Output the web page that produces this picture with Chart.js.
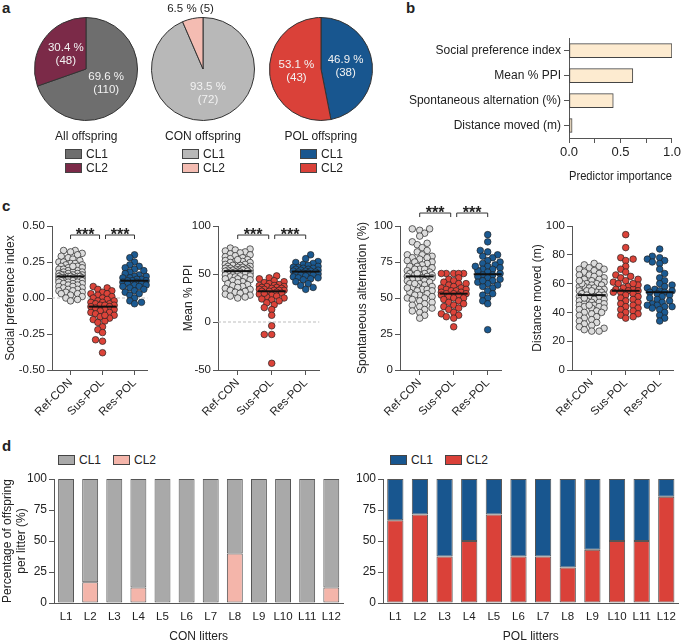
<!DOCTYPE html>
<html>
<head>
<meta charset="utf-8">
<script src="https://cdn.jsdelivr.net/npm/chart.js@4.4.0/dist/chart.umd.min.js"></script>
<style>
  body { margin: 0; background: #fff; font-family: "Liberation Sans", Arial, sans-serif; color: #222; }
  #fig { position: relative; width: 683px; height: 641px; overflow: hidden; }
  canvas { position: absolute; }
  .panel { position: absolute; font-weight: bold; font-size: 15px; line-height: 15px; }
  .txt { position: absolute; font-size: 12px; line-height: 14px; white-space: nowrap; }
  .key { position: absolute; font-size: 12px; line-height: 14px; white-space: nowrap; }
  .key i { display: inline-block; width: 15px; height: 8px; border: 1px solid #444; vertical-align: -1px; margin-right: 4px; }
</style>
</head>
<body>
<div id="fig">
  <div class="panel" style="left:2px;top:0px">a</div>
  <div class="panel" style="left:406px;top:0px">b</div>
  <div class="panel" style="left:2px;top:198px">c</div>
  <div class="panel" style="left:2px;top:438px">d</div>

  <canvas id="pieAll" width="130" height="134" style="left:21px;top:0px"></canvas>
  <canvas id="pieCon" width="130" height="134" style="left:138px;top:0px"></canvas>
  <canvas id="piePol" width="130" height="134" style="left:256px;top:0px"></canvas>

  <canvas id="barB" width="283" height="158" style="left:400px;top:28px"></canvas>

  <canvas id="stripSpi" width="149" height="227" style="left:3px;top:195px"></canvas>
  <canvas id="stripPpi" width="143" height="227" style="left:181px;top:195px"></canvas>
  <canvas id="stripSa" width="151" height="227" style="left:355px;top:195px"></canvas>
  <canvas id="stripDm" width="148" height="227" style="left:530px;top:195px"></canvas>

  <canvas id="litCon" width="348" height="176" style="left:0px;top:468px"></canvas>
  <canvas id="litPol" width="343" height="176" style="left:340px;top:468px"></canvas>
</div>

<script>
// ---- data ----
const clusterLabels = ['CL1', 'CL2'];
const pieTitles = ['All offspring', 'CON offspring', 'POL offspring'];
const pieAllCounts = [110, 48];
const pieConCounts = [72, 5];
const piePolCounts = [38, 43];
const pieAllPct = [69.6, 30.4];
const pieConPct = [93.5, 6.5];
const piePolPct = [46.9, 53.1];

const predictorLabels = ['Social preference index', 'Mean % PPI', 'Spontaneous alternation (%)', 'Distance moved (m)'];
const predictorImportance = [1.0, 0.62, 0.43, 0.03];
const importanceTicks = [0, 0.25, 0.5, 0.75, 1];

const groupLabels = ['Ref-CON', 'Sus-POL', 'Res-POL'];

// social preference index
const spiRefCon = [0.33, 0.33, 0.32, 0.31, 0.30, 0.29, 0.28, 0.27, 0.26, 0.25, 0.25, 0.24, 0.24, 0.23, 0.23, 0.22, 0.22, 0.21, 0.21, 0.20,
  0.20, 0.20, 0.19, 0.19, 0.18, 0.18, 0.18, 0.17, 0.17, 0.17, 0.16, 0.16, 0.16, 0.16, 0.15, 0.15, 0.15, 0.15, 0.15, 0.14,
  0.14, 0.14, 0.14, 0.13, 0.13, 0.13, 0.13, 0.12, 0.12, 0.12, 0.12, 0.11, 0.11, 0.11, 0.10, 0.10, 0.10, 0.09, 0.09, 0.08,
  0.08, 0.07, 0.07, 0.06, 0.06, 0.05, 0.05, 0.04, 0.04, 0.03, 0.03, 0.02, 0.01, 0.00, -0.01, -0.02, 0.22];
const spiSusPol = [0.08, 0.07, 0.06, 0.05, 0.04, 0.03, 0.03, 0.02, 0.01, 0.00, 0.00, -0.01, -0.02, -0.02, -0.03, -0.03, -0.04, -0.04,
  -0.05, -0.05, -0.05, -0.06, -0.06, -0.07, -0.08, -0.08, -0.09, -0.10, -0.10, -0.11, -0.12, -0.13, -0.14, -0.15, -0.16,
  -0.17, -0.20, -0.22, -0.24, -0.29, -0.30, -0.38, -0.12];
const spiResPol = [0.30, 0.28, 0.25, 0.23, 0.22, 0.21, 0.20, 0.19, 0.18, 0.17, 0.16, 0.15, 0.15, 0.14, 0.14, 0.13, 0.13, 0.12, 0.12,
  0.12, 0.11, 0.11, 0.10, 0.10, 0.09, 0.09, 0.08, 0.08, 0.07, 0.06, 0.05, 0.04, 0.03, 0.02, 0.00, -0.02, -0.03, -0.04];
const spiTicks = [-0.5, -0.25, 0, 0.25, 0.5];

// mean % PPI
const ppiRefCon = [77, 76, 75, 74, 73, 72, 71, 70, 69, 68, 67, 66, 65, 64, 63, 63, 62, 62, 61, 60, 60, 59, 59, 58, 58, 57, 57, 56, 56, 56,
  55, 55, 55, 54, 54, 54, 54, 53, 53, 53, 52, 52, 52, 51, 51, 50, 50, 49, 49, 48, 48, 47, 47, 46, 45, 45, 44, 43, 42, 41,
  40, 39, 38, 37, 36, 35, 34, 33, 32, 31, 30, 29, 28, 27, 26, 25, 65];
const ppiSusPol = [48, 46, 45, 43, 42, 41, 40, 39, 38, 38, 37, 37, 36, 36, 35, 35, 34, 34, 33, 33, 33, 32, 32, 31, 30, 29, 28, 27, 26,
  25, 24, 23, 22, 20, 18, 15, 13, 7, -4, -13, -13, -43, 30];
const ppiResPol = [70, 66, 63, 62, 61, 60, 59, 58, 57, 57, 56, 56, 55, 55, 54, 54, 53, 53, 53, 52, 52, 51, 51, 50, 50, 49, 49, 48, 47,
  46, 46, 45, 44, 42, 40, 38, 36, 34];
const ppiTicks = [-50, 0, 50, 100];

// spontaneous alternation
const saRefCon = [98, 98, 97, 95, 93, 89, 88, 87, 85, 83, 82, 80, 80, 79, 78, 78, 77, 76, 75, 75, 74, 73, 72, 72, 71, 70, 70, 69, 68, 68,
  67, 67, 66, 66, 66, 65, 65, 64, 64, 63, 63, 62, 62, 61, 60, 60, 59, 58, 58, 57, 56, 56, 55, 55, 54, 53, 52, 52, 51, 50,
  50, 49, 48, 47, 46, 45, 44, 43, 42, 41, 40, 38, 36, 57, 60, 70, 67];
const saSusPol = [67, 67, 67, 67, 67, 64, 63, 62, 61, 60, 60, 59, 58, 57, 57, 56, 56, 55, 55, 54, 54, 53, 53, 53, 52, 52, 51, 50, 50,
  49, 48, 47, 46, 45, 44, 43, 42, 40, 39, 38, 37, 36, 30];
const saResPol = [94, 89, 83, 82, 80, 79, 78, 76, 75, 74, 73, 72, 71, 70, 70, 69, 68, 67, 66, 66, 65, 64, 63, 62, 61, 60, 59, 58, 57,
  55, 53, 52, 50, 48, 46, 62, 72, 28];
const saTicks = [0, 25, 50, 75, 100];

// distance moved
const dmRefCon = [74, 73, 72, 71, 70, 70, 69, 68, 67, 66, 66, 65, 64, 63, 63, 62, 61, 60, 60, 59, 59, 58, 58, 57, 57, 56, 56, 55, 55, 54,
  54, 53, 53, 52, 52, 52, 51, 51, 50, 50, 49, 49, 48, 48, 47, 47, 46, 46, 45, 45, 44, 44, 43, 43, 42, 41, 40, 40, 39, 38,
  37, 36, 35, 34, 33, 32, 31, 30, 29, 28, 27, 27, 60, 55, 50, 45, 62];
const dmSusPol = [94, 85, 78, 77, 76, 72, 70, 68, 66, 65, 64, 63, 62, 61, 60, 59, 58, 57, 56, 56, 55, 55, 54, 54, 53, 52, 51, 50, 49,
  48, 47, 46, 45, 44, 43, 42, 41, 40, 39, 38, 37, 36, 60];
const dmResPol = [84, 79, 78, 77, 76, 75, 74, 70, 67, 64, 62, 60, 59, 58, 57, 56, 55, 55, 54, 54, 53, 52, 51, 50, 49, 48, 47, 46, 45,
  45, 44, 44, 43, 42, 40, 38, 36, 34];
const dmTicks = [0, 20, 40, 60, 80, 100];

const litterLabels = ['L1', 'L2', 'L3', 'L4', 'L5', 'L6', 'L7', 'L8', 'L9', 'L10', 'L11', 'L12'];
const conCL1 = [100, 83.3, 100, 87.5, 100, 100, 100, 60, 100, 100, 100, 87.5];
const conCL2 = [0, 16.7, 0, 12.5, 0, 0, 0, 40, 0, 0, 0, 12.5];
const polCL1 = [33.3, 28.6, 62.5, 50, 28.6, 62.5, 62.5, 71.4, 57.1, 50, 50, 14.3];
const polCL2 = [66.7, 71.4, 37.5, 50, 71.4, 37.5, 37.5, 28.6, 42.9, 50, 50, 85.7];
const litterTicks = [0, 25, 50, 75, 100];

// ---- common styling ----
const FONT = '"Liberation Sans", Arial, sans-serif';
Chart.defaults.font.family = FONT;
Chart.defaults.font.size = 12;
Chart.defaults.color = '#222';
Chart.defaults.animation = false;
Chart.defaults.responsive = false;
Chart.defaults.plugins.legend.display = false;
Chart.defaults.plugins.tooltip.enabled = false;

const AXIS = '#555';
const greyCol = ['#6e6e6e', '#7b2a48'];
const conCol = ['#b8b8b8', '#f4bcb2'];
const polCol = ['#18568f', '#da4139'];
const pointCol = ['#dcdcdc', '#dc4339', '#1b5a92'];

const fig = document.getElementById('fig');

function addKey(left, top, color, text) {
  const d = document.createElement('div');
  d.className = 'key';
  d.style.left = left + 'px';
  d.style.top = top + 'px';
  d.innerHTML = '<i style="background:' + color + '"></i>' + text;
  fig.appendChild(d);
}

function addText(cx, top, text) {
  const d = document.createElement('div');
  d.className = 'txt';
  d.textContent = text;
  d.style.top = top + 'px';
  fig.appendChild(d);
  d.style.left = (cx - d.offsetWidth / 2) + 'px';
}

// ---- panel a: pies ----
const pieLabels = {
  id: 'pieLabels',
  afterDatasetsDraw(chart) {
    const ctx = chart.ctx;
    const pct = chart.options.pct;
    const counts = chart.data.datasets[0].data;
    ctx.save();
    ctx.font = '11.5px ' + FONT;
    ctx.textAlign = 'center';
    ctx.textBaseline = 'middle';
    chart.getDatasetMeta(0).data.forEach((arc, i) => {
      const p = arc.getProps(['x', 'y', 'startAngle', 'endAngle', 'outerRadius']);
      const mid = (p.startAngle + p.endAngle) / 2;
      if (pct[i] < 10) {
        const r = p.outerRadius + 10;
        ctx.fillStyle = '#222';
        ctx.fillText(pct[i] + ' % (' + counts[i] + ')', p.x + Math.cos(mid) * r, p.y + Math.sin(mid) * r);
      } else {
        const r = p.outerRadius * 0.48;
        const x = p.x + Math.cos(mid) * r, y = p.y + Math.sin(mid) * r;
        ctx.fillStyle = '#f2f2f2';
        ctx.fillText(pct[i].toFixed(1) + ' %', x, y - 6.5);
        ctx.fillText('(' + counts[i] + ')', x, y + 6.5);
      }
    });
    ctx.restore();
  }
};

function makePie(id, counts, pct, colors, cx, title) {
  new Chart(document.getElementById(id), {
    type: 'pie',
    data: {
      labels: clusterLabels,
      datasets: [{ data: counts, backgroundColor: colors, borderColor: '#333', borderWidth: 1 }]
    },
    options: {
      pct: pct,
      layout: { padding: { top: 17, bottom: 13, left: 13, right: 13 } }
    },
    plugins: [pieLabels]
  });
  addText(cx, 129, title);
  addKey(cx - 21, 147, colors[0], clusterLabels[0]);
  addKey(cx - 21, 161, colors[1], clusterLabels[1]);
}

makePie('pieAll', pieAllCounts, pieAllPct, greyCol, 86, pieTitles[0]);
makePie('pieCon', pieConCounts, pieConPct, conCol, 203, pieTitles[1]);
makePie('piePol', piePolCounts, piePolPct, polCol, 321, pieTitles[2]);

// ---- panel b: predictor importance ----
new Chart(document.getElementById('barB'), {
  type: 'bar',
  data: {
    labels: predictorLabels,
    datasets: [{
      data: predictorImportance,
      backgroundColor: '#fdebd0',
      borderColor: '#444',
      borderWidth: 1,
      borderSkipped: false,
      barThickness: 14
    }]
  },
  options: {
    indexAxis: 'y',
    layout: { padding: { top: 10, right: 9 } },
    scales: {
      x: {
        min: 0, max: 1,
        afterBuildTicks: s => { s.ticks = importanceTicks.map(v => ({ value: v })); },
        afterFit: s => { s.height = 48; },
        ticks: { callback: v => (v % 0.5 === 0 ? v.toFixed(1) : ''), font: { size: 13 }, padding: 2, maxRotation: 0 },
        grid: { drawOnChartArea: false, tickLength: 5, color: AXIS },
        border: { color: AXIS },
        title: { display: true, text: 'Predictor importance', padding: { top: 2, bottom: 2 } }
      },
      y: {
        afterFit: s => { s.width = 169; },
        ticks: { padding: 3 },
        grid: { drawOnChartArea: false, tickLength: 5, color: AXIS, offset: false },
        border: { color: AXIS }
      }
    }
  }
});

// ---- panel c: strip plots ----
function swarm(values, center, pxY, pxX) {
  const minDist = 5.2, step = 2.4, maxW = 13;
  const placed = [];
  const out = new Array(values.length);
  const order = values.map((v, i) => i).sort((a, b) => values[a] - values[b]);
  order.forEach(i => {
    const py = values[i] * pxY;
    let best = 0, bestScore = -1;
    const sides = placed.length % 2 ? [1, -1] : [-1, 1];
    outer:
    for (let k = 0; k * step <= maxW; k++) {
      for (const sgn of (k ? sides : [1])) {
        const px = sgn * k * step;
        let m = Infinity;
        for (const p of placed) {
          const dd = Math.hypot(p.x - px, p.y - py);
          if (dd < m) m = dd;
        }
        if (m >= minDist) { best = px; break outer; }
        if (m > bestScore) { bestScore = m; best = px; }
      }
    }
    placed.push({ x: best, y: py });
    out[i] = { x: center + best / pxX, y: values[i] };
  });
  return out;
}

function median(a) {
  const s = [...a].sort((x, y) => x - y);
  const m = s.length >> 1;
  return s.length % 2 ? s[m] : (s[m - 1] + s[m]) / 2;
}

const stripDecor = {
  id: 'stripDecor',
  beforeDatasetsDraw(chart) {
    const { ctx, chartArea, scales: { y } } = chart;
    if (y.min >= 0) return;
    const py = y.getPixelForValue(0);
    ctx.save();
    ctx.strokeStyle = '#bdbdbd';
    ctx.lineWidth = 1;
    ctx.setLineDash([3, 2]);
    ctx.beginPath();
    ctx.moveTo(chartArea.left, py);
    ctx.lineTo(chartArea.right, py);
    ctx.stroke();
    ctx.restore();
  },
  afterDatasetsDraw(chart) {
    const { ctx, scales: { x, y } } = chart;
    const o = chart.options.strip;
    ctx.save();
    ctx.strokeStyle = '#111';
    ctx.lineWidth = 2;
    o.groups.forEach((vals, g) => {
      const cx = x.getPixelForValue(g + 1);
      const py = y.getPixelForValue(median(vals));
      ctx.beginPath();
      ctx.moveTo(cx - 14, py);
      ctx.lineTo(cx + 14, py);
      ctx.stroke();
    });
    if (o.bracketY !== null) {
      const by = y.getPixelForValue(o.bracketY);
      const spans = [[x.getPixelForValue(1), x.getPixelForValue(2) - 3], [x.getPixelForValue(2) + 3, x.getPixelForValue(3)]];
      ctx.lineWidth = 1;
      ctx.strokeStyle = '#333';
      ctx.fillStyle = '#222';
      ctx.font = 'bold 16px ' + FONT;
      ctx.textAlign = 'center';
      ctx.textBaseline = 'alphabetic';
      spans.forEach(([a, b]) => {
        ctx.beginPath();
        ctx.moveTo(a, by + 4);
        ctx.lineTo(a, by);
        ctx.lineTo(b, by);
        ctx.lineTo(b, by + 4);
        ctx.stroke();
        ctx.fillText('***', (a + b) / 2, by + 5);
      });
    }
    ctx.restore();
  }
};

function makeStrip(id, groups, min, max, ticks, fmt, title, yWidth, bracketY) {
  const pxY = 144 / (max - min);
  const datasets = groups.map((vals, g) => ({
    data: swarm(vals, g + 1, pxY, 33),
    backgroundColor: pointCol[g],
    borderColor: '#222',
    borderWidth: 0.7,
    pointRadius: 3.3
  }));
  new Chart(document.getElementById(id), {
    type: 'scatter',
    data: { datasets },
    options: {
      strip: { groups, bracketY },
      clip: false,
      layout: { padding: { top: 31, right: 2 } },
      scales: {
        x: {
          type: 'linear', min: 0.42, max: 3.4,
          afterBuildTicks: s => { s.ticks = [1, 2, 3].map(v => ({ value: v })); },
          afterFit: s => { s.height = 52; },
          ticks: { callback: v => groupLabels[v - 1], minRotation: 45, maxRotation: 45, padding: 1, font: { size: 11.5 } },
          grid: { drawOnChartArea: false, tickLength: 5, color: AXIS },
          border: { color: AXIS }
        },
        y: {
          min, max,
          afterBuildTicks: s => { s.ticks = ticks.map(v => ({ value: v })); },
          afterFit: s => { s.width = yWidth; },
          ticks: { callback: fmt, padding: 2, font: { size: 11.5 } },
          grid: { drawOnChartArea: false, tickLength: 5, color: AXIS },
          border: { color: AXIS },
          title: { display: true, text: title, padding: { top: 0, bottom: 0 } }
        }
      }
    },
    plugins: [stripDecor]
  });
}

makeStrip('stripSpi', [spiRefCon, spiSusPol, spiResPol], -0.5, 0.5, spiTicks, v => v.toFixed(2),
  'Social preference index', 49, 0.4375);
makeStrip('stripPpi', [ppiRefCon, ppiSusPol, ppiResPol], -50, 100, ppiTicks, v => v,
  'Mean % PPI', 37, 90.6);
makeStrip('stripSa', [saRefCon, saSusPol, saResPol], 0, 100, saTicks, v => v,
  'Spontaneous alternation (%)', 45, 109);
makeStrip('stripDm', [dmRefCon, dmSusPol, dmResPol], 0, 100, dmTicks, v => v,
  'Distance moved (m)', 42, null);

// ---- panel d: litters ----
function makeLitters(id, cl1, cl2, colors, xTitle, yWidth, yTitle) {
  const common = { borderColor: '#555', borderWidth: 1, borderSkipped: false, barPercentage: 0.66, categoryPercentage: 1 };
  new Chart(document.getElementById(id), {
    type: 'bar',
    data: {
      labels: litterLabels,
      datasets: [
        Object.assign({ label: clusterLabels[1], data: cl2, backgroundColor: colors[1] }, common),
        Object.assign({ label: clusterLabels[0], data: cl1, backgroundColor: colors[0] }, common)
      ]
    },
    options: {
      layout: { padding: { top: 11, right: 3 } },
      scales: {
        x: {
          stacked: true,
          afterFit: s => { s.height = 41; },
          ticks: { padding: 7, font: { size: 11.5 }, maxRotation: 0 },
          grid: { drawOnChartArea: false, drawTicks: false, color: AXIS },
          border: { color: AXIS },
          title: { display: true, text: xTitle, padding: { top: 0, bottom: 0 } }
        },
        y: {
          stacked: true, min: 0, max: 100,
          afterBuildTicks: s => { s.ticks = litterTicks.map(v => ({ value: v })); },
          afterFit: s => { s.width = yWidth; },
          ticks: { padding: 2 },
          grid: { drawOnChartArea: false, tickLength: 5, color: AXIS },
          border: { color: AXIS },
          title: { display: !!yTitle, text: yTitle || '', padding: { top: 0, bottom: 0 } }
        }
      }
    }
  });
}

makeLitters('litCon', conCL1, conCL2, ['#a9a9a9', '#f4b5aa'], 'CON litters', 54,
  ['Percentage of offspring', 'per litter (%)']);
makeLitters('litPol', polCL1, polCL2, polCol, 'POL litters', 43, null);

addKey(58, 453, '#a9a9a9', 'CL1');
addKey(113, 453, '#f4b5aa', 'CL2');
addKey(390, 453, polCol[0], 'CL1');
addKey(445, 453, polCol[1], 'CL2');
</script>
</body>
</html>
